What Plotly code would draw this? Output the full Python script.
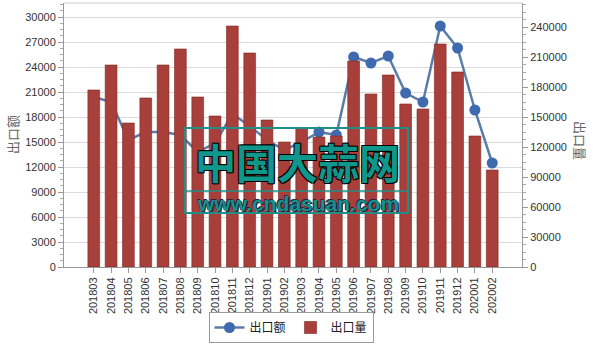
import plotly.graph_objects as go

months = ["201803", "201804", "201805", "201806", "201807", "201808", "201809",
          "201810", "201811", "201812", "201901", "201902", "201903", "201904",
          "201905", "201906", "201907", "201908", "201909", "201910", "201911",
          "201912", "202001", "202002"]

export_value = [20400, 19800, 15240, 16200, 16200, 15840, 13800, 14880, 18360,
                16920, 15240, 14040, 15000, 16200, 15840, 25200, 24480, 25320,
                20880, 19800, 28920, 26280, 18840, 12480]

export_volume = [177000, 202000, 144000, 169000, 202000, 218000, 170000, 151000,
                 241000, 214000, 147000, 125000, 139000, 130000, 131000, 206000,
                 173000, 192000, 163000, 158000, 223000, 195000, 131000, 97000]

left_ticks = list(range(0, 30001, 3000))
right_ticks = list(range(0, 240001, 30000))

W, H = 595, 344
L, R, T, B = 64, 522, 3, 267


def px(x):
    return (x - L) / (R - L)


def py(y):
    return (B - y) / (B - T)


fig = go.Figure()

fig.add_trace(go.Scatter(
    x=months, y=export_value, name="出口额", mode="lines+markers",
    line=dict(color="#5a7ca8", width=2.5),
    marker=dict(color="#3f6aad", size=11),
    yaxis="y",
))

fig.add_trace(go.Bar(
    x=months, y=export_volume, name="出口量",
    marker=dict(color="#a83f3a", line=dict(color="#7e2824", width=0.6)),
    yaxis="y2",
))

tickfont = dict(family="Liberation Sans, Arial, sans-serif", size=11, color="#333333")

fig.update_layout(
    width=W, height=H,
    margin=dict(l=L, r=W - R, t=T, b=H - B, autoexpand=False),
    paper_bgcolor="white", plot_bgcolor="white",
    bargap=0.32,
    showlegend=True,
    legend=dict(
        orientation="h", x=px(291), xanchor="center", y=py(343), yanchor="bottom",
        font=dict(family="Noto Sans CJK SC", size=12, color="#222222"),
        bordercolor="#9a9a9a", borderwidth=1, bgcolor="white",
        itemwidth=30, tracegroupgap=0,
    ),
    xaxis=dict(
        type="category", tickangle=-90, tickfont=tickfont,
        showline=True, linecolor="#999999", linewidth=1,
        ticks="outside", ticklen=5, tickcolor="#999999",
        showgrid=False, zeroline=False,
    ),
    yaxis=dict(
        range=[0, 31680], tickvals=left_ticks, tickformat="d", tickfont=tickfont,
        showline=True, linecolor="#999999", linewidth=1,
        ticks="outside", ticklen=5, tickcolor="#999999",
        minor=dict(dtick=750, ticks="outside", ticklen=3, tickcolor="#aaaaaa", showgrid=False),
        showgrid=True, gridcolor="#dcdcdc", gridwidth=1, zeroline=False,
    ),
    yaxis2=dict(
        range=[0, 264000], tickvals=right_ticks, tickformat="d", tickfont=tickfont,
        overlaying="y", side="right",
        showline=True, linecolor="#999999", linewidth=1,
        ticks="outside", ticklen=5, tickcolor="#999999",
        minor=dict(dtick=7500, ticks="outside", ticklen=3, tickcolor="#aaaaaa", showgrid=False),
        showgrid=False, zeroline=False,
    ),
)

# plot frame top line
fig.add_shape(type="line", xref="paper", yref="paper", x0=0, x1=1, y0=1, y1=1,
              line=dict(color="#cccccc", width=1))

# axis titles
fig.add_annotation(text="出口额", xref="paper", yref="paper", x=px(12), y=py(135),
                   xanchor="center", yanchor="middle",
                   showarrow=False, textangle=-90,
                   font=dict(family="Noto Sans CJK SC", size=13, color="#666666"))
fig.add_annotation(text="出口量", xref="paper", yref="paper", x=px(581), y=py(140),
                   xanchor="center", yanchor="middle",
                   showarrow=False, textangle=90,
                   font=dict(family="Noto Sans CJK SC", size=13, color="#666666"))

# watermark
teal = "#1f8f88"
fig.add_shape(type="rect", xref="paper", yref="paper",
              x0=px(185), x1=px(408), y0=py(213), y1=py(128),
              line=dict(color=teal, width=2), fillcolor="rgba(0,0,0,0)")
fig.add_shape(type="line", xref="paper", yref="paper",
              x0=px(185), x1=px(408), y0=py(191), y1=py(191),
              line=dict(color=teal, width=1.5))
outline = "1px 1px 0 #000, -1px -1px 0 #000, 1px -1px 0 #000, -1px 1px 0 #000"
fig.add_annotation(text="中国大蒜网", xref="paper", yref="paper", x=px(297), y=py(161),
                   xanchor="center", yanchor="middle", showarrow=False,
                   font=dict(family="Noto Sans CJK SC", size=41, color="#0e978a",
                             weight="bold", shadow=outline))
fig.add_annotation(text="www.cndasuan.com", xref="paper", yref="paper", x=px(298), y=py(203),
                   xanchor="center", yanchor="middle", showarrow=False,
                   font=dict(family="Liberation Sans, Arial", size=21, color="#15938a",
                             weight="bold", shadow="1px 1px 0 #224, -1px -1px 0 #224"))

fig.write_html("out.html")
